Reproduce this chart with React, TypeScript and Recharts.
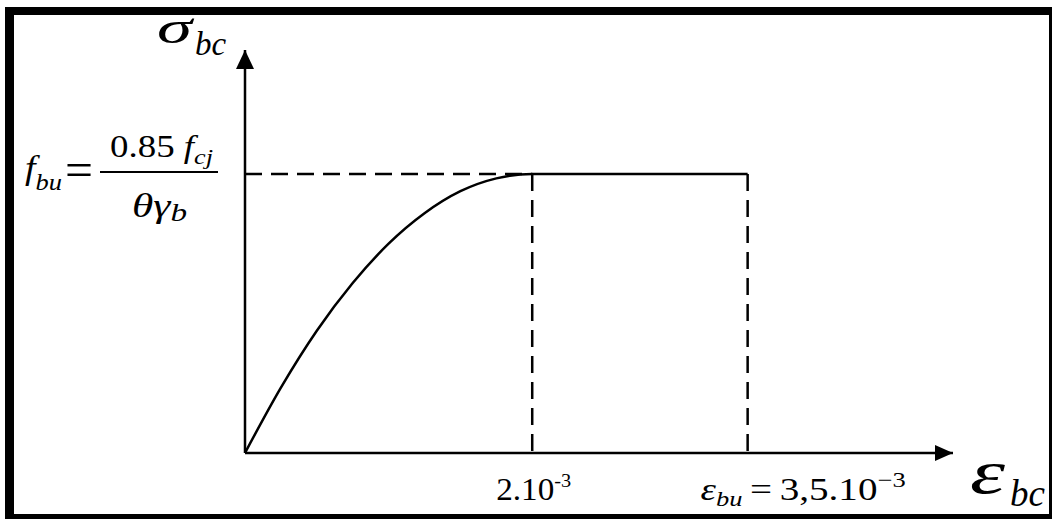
import { ComposedChart, Line, Scatter, XAxis, YAxis, ReferenceLine } from "recharts";

// strain in ‰ (x 10^-3), stress as a fraction of f_bu
const strain = [0, 0.25, 0.5, 0.75, 1, 1.25, 1.5, 1.75, 2, 3.5];
const stress = [0, 0.234, 0.438, 0.609, 0.75, 0.859, 0.938, 0.984, 1, 1];
const strainTicks = [2, 3.5];
const stressTicks = [1];
const strainMax = 4.93;
const stressMax = 1.444;

const curve = strain.map((eps, i) => ({ eps, sig: stress[i] }));
const xArrow = [{ eps: strainMax, sig: 0 }];
const yArrow = [{ eps: 0, sig: stressMax }];

const serif = { fontFamily: '"Liberation Serif", "Times New Roman", Times, serif' };
const ink = "#000";

function StrainTick(props: any) {
  const { x, y, payload } = props;
  if (payload.value === 2) {
    return (
      <text x={x - 36} y={y + 47} style={serif} fontSize={31} fill={ink} textLength={75} lengthAdjust="spacingAndGlyphs">
        2.10<tspan fontSize={19} dy={-13}>-3</tspan>
      </text>
    );
  }
  return (
    <text x={x - 47} y={y + 47} style={serif} fontSize={31} fill={ink} textLength={205} lengthAdjust="spacingAndGlyphs">
      <tspan fontStyle="italic">ε</tspan>
      <tspan fontStyle="italic" fontSize={21} dy={6}>bu</tspan>
      <tspan dy={-6} dx={6}>=</tspan>
      <tspan dx={6}>3,5.10</tspan>
      <tspan fontSize={21} dy={-13}>−3</tspan>
    </text>
  );
}

function StressTick(props: any) {
  const { x, y } = props;
  return (
    <g style={serif} fill={ink}>
      <text x={x - 220} y={y + 5} fontSize={33} fontStyle="italic" textLength={37} lengthAdjust="spacingAndGlyphs">
        f<tspan fontSize={23} dy={11}>bu</tspan>
      </text>
      <text x={x - 180} y={y + 12} fontSize={48} textLength={28} lengthAdjust="spacingAndGlyphs">=</text>
      <line x1={x - 145} x2={x - 27} y1={y - 2} y2={y - 2} stroke={ink} strokeWidth={2} />
      <text x={x - 135} y={y - 17} fontSize={31} textLength={103} lengthAdjust="spacingAndGlyphs">
        0.85 <tspan fontStyle="italic">f</tspan>
        <tspan fontStyle="italic" fontSize={22} dy={7}>cj</tspan>
      </text>
      <text x={x - 113} y={y + 43} fontSize={34} fontStyle="italic" textLength={55} lengthAdjust="spacingAndGlyphs">
        θγ<tspan fontSize={26} dy={4}>b</tspan>
      </text>
    </g>
  );
}

function SigmaTitle({ viewBox }: any) {
  const { x, y, width } = viewBox;
  const left = x + width - 88;
  return (
    <g style={serif} fill={ink} fontStyle="italic">
      <text x={left} y={y - 7} fontSize={46} textLength={35} lengthAdjust="spacingAndGlyphs">σ</text>
      <text x={left + 38} y={y + 5} fontSize={33}>bc</text>
    </g>
  );
}

function EpsTitle({ viewBox }: any) {
  const { x, y, width } = viewBox;
  const left = x + width + 17;
  return (
    <g style={serif} fill={ink} fontStyle="italic">
      <text x={left} y={y + 40} fontSize={62} textLength={35} lengthAdjust="spacingAndGlyphs">ε</text>
      <text x={left + 40} y={y + 53} fontSize={37}>bc</text>
    </g>
  );
}

const RightArrow = (p: any) => (
  <polygon points={`${p.cx},${p.cy} ${p.cx - 18},${p.cy - 8} ${p.cx - 18},${p.cy + 8}`} fill={ink} />
);
const UpArrow = (p: any) => (
  <polygon points={`${p.cx},${p.cy} ${p.cx - 9},${p.cy + 19} ${p.cx + 9},${p.cy + 19}`} fill={ink} />
);

export default function App() {
  return (
    <div style={{ position: "absolute", left: 0, top: 0, width: 1052, height: 519, background: "#fff" }}>
      <div
        style={{
          position: "absolute",
          left: 5,
          top: 7,
          right: 0,
          bottom: 0,
          borderStyle: "solid",
          borderColor: ink,
          borderWidth: "8px 3px 5px 9px",
        }}
      />
      <div style={{ position: "absolute", left: 0, top: 0 }}>
        <ComposedChart
          width={1052}
          height={519}
          data={curve}
          margin={{ top: 50, right: 99, bottom: 10, left: 0 }}
        >
          <XAxis
            type="number"
            dataKey="eps"
            domain={[0, strainMax]}
            ticks={strainTicks}
            height={56}
            axisLine={{ stroke: ink, strokeWidth: 2.5 }}
            tickLine={false}
            tickSize={0}
            tickMargin={0}
            tick={<StrainTick />}
            label={{ content: (p: any) => <EpsTitle viewBox={p.viewBox} /> }}
          />
          <YAxis
            type="number"
            dataKey="sig"
            domain={[0, stressMax]}
            ticks={stressTicks}
            width={245}
            axisLine={{ stroke: ink, strokeWidth: 2.5 }}
            tickLine={false}
            tickSize={0}
            tickMargin={0}
            tick={<StressTick />}
            label={{ content: (p: any) => <SigmaTitle viewBox={p.viewBox} /> }}
          />
          <ReferenceLine
            segment={[{ x: 0, y: 1 }, { x: 2, y: 1 }]}
            stroke={ink}
            strokeWidth={2.5}
            strokeDasharray="17 9"
          />
          <ReferenceLine
            segment={[{ x: 2, y: 1 }, { x: 2, y: 0 }]}
            stroke={ink}
            strokeWidth={2.5}
            strokeDasharray="17 9"
          />
          <ReferenceLine
            segment={[{ x: 3.5, y: 1 }, { x: 3.5, y: 0 }]}
            stroke={ink}
            strokeWidth={2.5}
            strokeDasharray="17 9"
          />
          <Line
            type="monotone"
            dataKey="sig"
            stroke={ink}
            strokeWidth={2.5}
            dot={false}
            activeDot={false}
            isAnimationActive={false}
          />
          <Scatter data={xArrow} shape={RightArrow} isAnimationActive={false} />
          <Scatter data={yArrow} shape={UpArrow} isAnimationActive={false} />
        </ComposedChart>
      </div>
    </div>
  );
}
